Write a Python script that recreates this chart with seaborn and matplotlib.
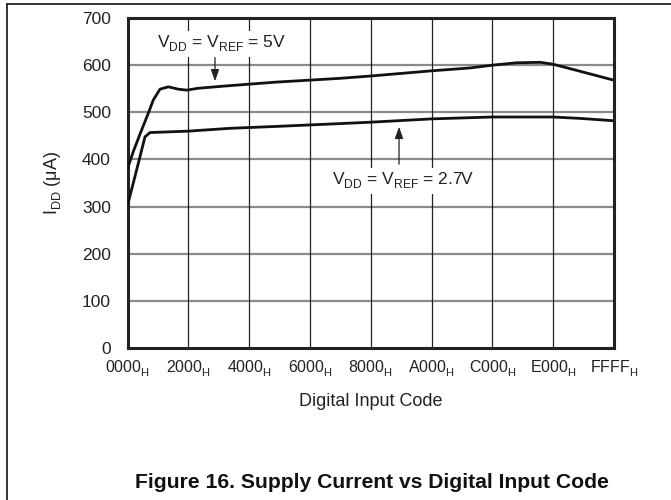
import matplotlib
matplotlib.use("Agg")
import matplotlib.pyplot as plt
from matplotlib.lines import Line2D
import numpy as np
import pandas as pd
import seaborn as sns

# ---- data ----
code_5v = [0, 800, 1700, 2790, 3460, 4360, 5490, 6840, 7960, 9530, 13350, 20000,
           28600, 32800, 41000, 46100, 49200, 52400, 55600, 57300, 60000, 65535]
idd_5v = [381, 418, 455, 498, 526, 549, 554, 549, 547, 551, 556, 564,
          572, 577, 588, 594, 600, 605, 606, 602, 591, 568]

code_27v = [0, 1220, 2345, 3020, 8180, 13800, 20000, 28620, 32760, 40970, 49150, 57320, 61000, 65535]
idd_27v = [303, 378, 448, 457, 460, 466, 470, 476, 479, 486, 490, 490, 487, 482]

series_names = ["VDD = VREF = 5V", "VDD = VREF = 2.7V"]
x_ticks = [0x0000, 0x2000, 0x4000, 0x6000, 0x8000, 0xA000, 0xC000, 0xE000, 0xFFFF]
x_tick_labels = ["0000", "2000", "4000", "6000", "8000", "A000", "C000", "E000", "FFFF"]
y_ticks = [0, 100, 200, 300, 400, 500, 600, 700]

df = pd.concat([
    pd.DataFrame({"code": code_5v, "idd": idd_5v, "series": series_names[0]}),
    pd.DataFrame({"code": code_27v, "idd": idd_27v, "series": series_names[1]}),
])

sns.set_style("white")
plt.rcParams["font.family"] = ["Liberation Sans", "DejaVu Sans"]
plt.rcParams["mathtext.fontset"] = "custom"
plt.rcParams["mathtext.rm"] = "Liberation Sans"
plt.rcParams["mathtext.it"] = "Liberation Sans"
plt.rcParams["mathtext.default"] = "regular"
try:
    import matplotlib._mathtext as _mt
    _mt.FontConstantsBase.sub1 = 0.45
    _mt.FontConstantsBase.sub2 = 0.55
except Exception:
    pass

fig = plt.figure(figsize=(6.71, 5.0), dpi=100)
W, H = 671, 500
l, r, t, b = 127.6, 614, 18, 348
ax = fig.add_axes([l / W, 1 - b / H, (r - l) / W, (b - t) / H])

sns.lineplot(data=df, x="code", y="idd", hue="series", palette=["#111111", "#111111"],
             linewidth=2.0, legend=False, ax=ax, sort=False, zorder=5)

ax.set_xlim(0, 65535)
ax.set_ylim(0, 700)
ax.set_xticks(x_ticks)
ax.set_xticklabels([s + r"$_{H}$" for s in x_tick_labels])
ax.set_yticks(y_ticks)
ax.tick_params(axis="both", length=0, colors="#222222")
ax.tick_params(axis="x", pad=8, labelsize=11.5)
ax.tick_params(axis="y", pad=12, labelsize=12.5)

for yv in y_ticks[1:-1]:
    ax.axhline(yv, color="#8a8a8a", lw=1.6, zorder=1)
for xv in x_ticks[1:-1]:
    ax.axvline(xv, color="#222222", lw=0.9, zorder=1)

for s in ax.spines.values():
    s.set_visible(True)
    s.set_color("#222222")
    s.set_linewidth(2.2)

ax.set_xlabel("Digital Input Code", fontsize=13, color="#222222", labelpad=10)
ax.set_ylabel("I$_{DD}$ (\u03bcA)", fontsize=13, color="#222222", labelpad=13)

bbox = dict(boxstyle="square,pad=0.15", fc="white", ec="none")
ax.text(12720, 645, r"V$_{DD}$ = V$_{REF}$ = 5V", fontsize=12.5, ha="center", va="center",
        color="#222222", bbox=bbox, zorder=3)
ax.annotate("", xy=(11776, 560), xytext=(11776, 622),
            arrowprops=dict(arrowstyle="-|>,head_length=0.7,head_width=0.25", color="#222222", lw=0.9),
            zorder=4)
ax.text(37105, 354, r"V$_{DD}$ = V$_{REF}$ = 2.7V", fontsize=12.5, ha="center", va="center",
        color="#222222", bbox=bbox, zorder=3)
ax.annotate("", xy=(36570, 475), xytext=(36570, 384),
            arrowprops=dict(arrowstyle="-|>,head_length=0.7,head_width=0.25", color="#222222", lw=0.9),
            zorder=4)

fig.text(372 / W, 1 - 482 / H, "Figure 16. Supply Current vs Digital Input Code",
         fontsize=15.2, fontweight="bold", ha="center", va="center", color="#111111")

# frame of the figure panel (top and left edges)
fig.add_artist(Line2D([7 / W, 1.0], [1 - 4 / H, 1 - 4 / H], transform=fig.transFigure, color="#111111", lw=1.2))
fig.add_artist(Line2D([7 / W, 7 / W], [0, 1 - 4 / H], transform=fig.transFigure, color="#111111", lw=1.2))

fig.savefig("out.png", dpi=100)
